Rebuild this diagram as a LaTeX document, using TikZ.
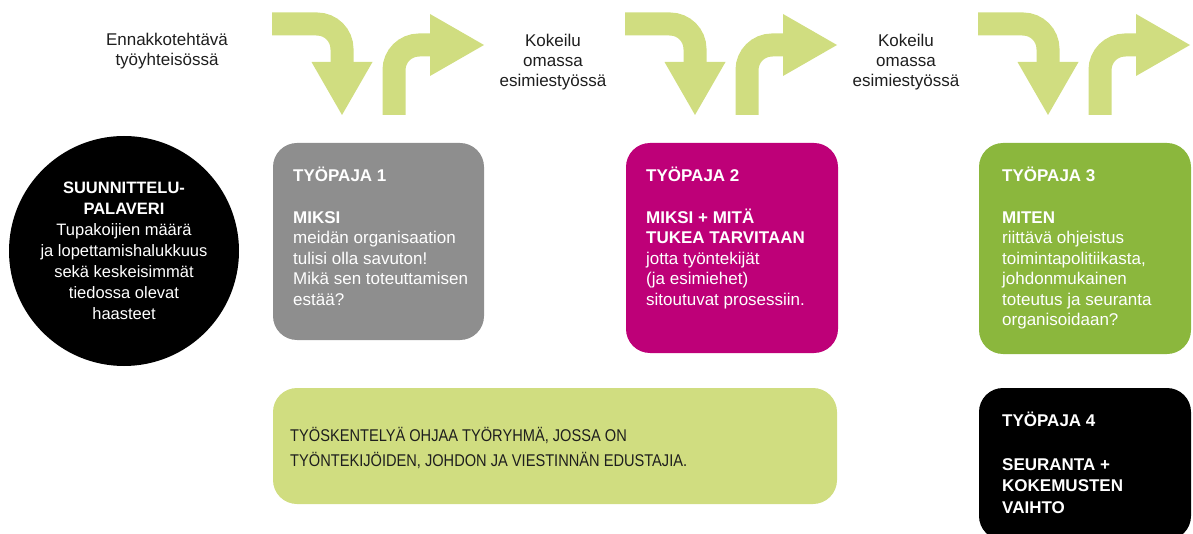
\documentclass[tikz,border=0pt]{standalone}
\usepackage{fontspec}
\setmainfont{Liberation Sans}
\newfontfamily\narrowfont[FakeStretch=0.86]{Liberation Sans}
\usetikzlibrary{arrows.meta}

\definecolor{pajaGrey}{HTML}{8E8E8E}
\definecolor{pajaMagenta}{HTML}{BE0078}
\definecolor{pajaGreen}{HTML}{8BB73D}
\definecolor{pajaLime}{HTML}{D0DD80}
\definecolor{pajaInk}{HTML}{1E1E1E}

\begin{document}
\begin{tikzpicture}[x=1pt, y=-1pt,
    box/.style={rectangle, rounded corners=24pt, inner sep=0pt},
    turn/.style={draw=pajaLime, line width=23pt, rounded corners=25pt},
    pajatext/.style={anchor=north west, inner sep=0pt, align=left, text=white, font=\fontsize{17}{20.5}\selectfont},
    steplabel/.style={anchor=north, inner sep=0pt, align=center, text=pajaInk, font=\fontsize{17}{20}\selectfont}]
    \useasboundingbox (0, 0) rectangle (1193, 534);

    % 矢印を描画
    \draw[turn, -{Triangle[length=53pt, width=61pt, line width=0pt]}] (272, 24) -| (342, 115);
    \draw[turn, -{Triangle[length=54pt, width=62pt, line width=0pt]}] (394, 115) |- (484, 45);
    \draw[turn, -{Triangle[length=53pt, width=61pt, line width=0pt]}] (625, 24) -| (695, 115);
    \draw[turn, -{Triangle[length=54pt, width=62pt, line width=0pt]}] (747, 115) |- (837, 45);
    \draw[turn, -{Triangle[length=53pt, width=61pt, line width=0pt]}] (978, 24) -| (1048, 115);
    \draw[turn, -{Triangle[length=54pt, width=62pt, line width=0pt]}] (1100, 115) |- (1190, 45);

    % ノードを描画
    \node[circle, fill=black, minimum size=230pt, inner sep=0pt] (SP) at (124, 251) {};
    \node[box, fill=pajaGrey, minimum width=211pt, minimum height=197pt] (P1) at (378.5, 241.5) {};
    \node[box, fill=pajaMagenta, minimum width=212pt, minimum height=210pt] (P2) at (732, 248) {};
    \node[box, fill=pajaGreen, minimum width=212pt, minimum height=211pt] (P3) at (1085, 248.5) {};
    \node[box, fill=black, minimum width=212pt, minimum height=152pt] (P4) at (1085, 464) {};
    \node[box, fill=pajaLime, minimum width=564pt, minimum height=116pt] (TR) at (555, 446) {};

    % テキストを描画
    \node[steplabel] (L1) at (167, 33) {Ennakkotehtävä\\työyhteisössä};
    \node[steplabel] (L2) at (553, 34) {Kokeilu\\omassa\\esimiestyössä};
    \node[steplabel] (L3) at (906, 34) {Kokeilu\\omassa\\esimiestyössä};

    \node[inner sep=0pt, align=center, text=white, font=\fontsize{16.5}{21}\selectfont] (SPT) at (SP) {\textbf{SUUNNITTELU-}\\\textbf{PALAVERI}\\Tupakoijien määrä\\ja lopettamishalukkuus\\sekä keskeisimmät\\tiedossa olevat\\haasteet};

    \node[pajatext] (T1) at (293, 167) {\textbf{TYÖPAJA 1}\\[21pt]\textbf{MIKSI}\\meidän organisaation\\tulisi olla savuton!\\Mikä sen toteuttamisen\\estää?};
    \node[pajatext] (T2) at (646, 167) {\textbf{TYÖPAJA 2}\\[21pt]\textbf{MIKSI + MITÄ}\\\textbf{TUKEA TARVITAAN}\\jotta työntekijät\\(ja esimiehet)\\sitoutuvat prosessiin.};
    \node[pajatext] (T3) at (1002, 167) {\textbf{TYÖPAJA 3}\\[21pt]\textbf{MITEN}\\riittävä ohjeistus\\toimintapolitiikasta,\\johdonmukainen\\toteutus ja seuranta\\organisoidaan?};
    \node[pajatext, font=\fontsize{17}{21.5}\selectfont] (T4) at (1002, 412) {\textbf{TYÖPAJA 4}\\[22pt]\textbf{SEURANTA +}\\\textbf{KOKEMUSTEN}\\\textbf{VAIHTO}};
    \node[pajatext, text=pajaInk, font=\narrowfont\fontsize{17}{25}\selectfont] (TRT) at (290, 427) {TYÖSKENTELYÄ OHJAA TYÖRYHMÄ, JOSSA ON\\TYÖNTEKIJÖIDEN, JOHDON JA VIESTINNÄN EDUSTAJIA.};
\end{tikzpicture}
\end{document}
